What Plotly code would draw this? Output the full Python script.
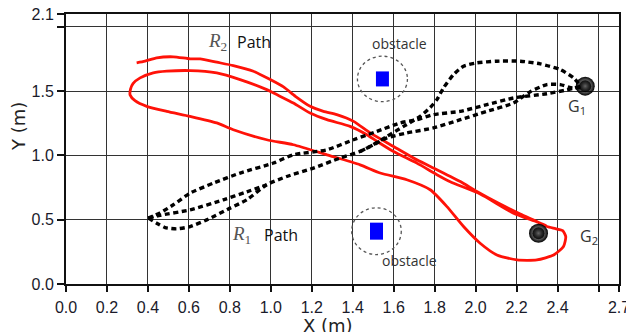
import plotly.graph_objects as go

# ---------------- data ----------------
# R2 path (red, solid)
r2_x = [0.345, 0.386, 0.443, 0.524, 0.606, 0.655, 0.736, 0.817, 0.915, 0.997, 1.062, 1.120,
        1.192, 1.257, 1.322, 1.404, 1.485, 1.599, 1.713, 1.811, 1.925, 2.006, 2.110, 2.218,
        2.299, 2.348, 2.390,
        2.425, 2.440, 2.429, 2.381, 2.299, 2.202, 2.104, 2.022, 1.941, 1.860, 1.778, 1.664,
        1.534, 1.436, 1.274, 1.110, 0.980, 0.817, 0.736, 0.606, 0.492, 0.394, 0.337, 0.313,
        0.315, 0.327, 0.362, 0.426, 0.492, 0.606, 0.736, 0.850, 0.980, 1.029, 1.110, 1.192,
        1.274, 1.387, 1.469, 1.518, 1.599, 1.713, 1.811, 1.876, 2.022, 2.185, 2.299, 2.345]
r2_y = [1.720, 1.733, 1.759, 1.767, 1.751, 1.751, 1.725, 1.699, 1.655, 1.590, 1.533, 1.460,
        1.382, 1.343, 1.317, 1.265, 1.175, 1.070, 0.966, 0.889, 0.797, 0.720, 0.630, 0.545,
        0.486, 0.447, 0.430,
        0.415, 0.369, 0.291, 0.226, 0.187, 0.187, 0.226, 0.317, 0.447, 0.602, 0.733, 0.811,
        0.863, 0.927, 1.005, 1.083, 1.122, 1.200, 1.253, 1.304, 1.343, 1.382, 1.426, 1.470,
        1.515, 1.559, 1.603, 1.642, 1.655, 1.660, 1.642, 1.590, 1.512, 1.473, 1.408, 1.330,
        1.278, 1.226, 1.161, 1.110, 1.030, 0.940, 0.850, 0.795, 0.700, 0.551, 0.483, 0.452]

# R1 path (black, dashed) in segments
r1_arc_x = [0.402, 0.443, 0.484, 0.541, 0.606, 0.687, 0.801, 0.883, 0.980, 1.078, 1.208,
            1.339, 1.436, 1.485, 1.567, 1.648, 1.729, 1.778, 1.811, 1.843, 1.892, 1.941,
            2.006, 2.104, 2.218, 2.316, 2.413, 2.478, 2.511]
r1_arc_y = [0.512, 0.473, 0.439, 0.429, 0.447, 0.499, 0.590, 0.655, 0.772, 0.836, 0.902,
            0.980, 1.031, 1.070, 1.148, 1.226, 1.304, 1.372, 1.434, 1.525, 1.629, 1.694,
            1.720, 1.733, 1.733, 1.712, 1.668, 1.603, 1.543]
r1_back_x = [2.511, 2.446, 2.348, 2.185, 2.055, 1.925, 1.794, 1.713, 1.632, 1.518, 1.404,
             1.274, 1.110, 1.013, 0.850, 0.720, 0.606, 0.524, 0.459, 0.402]
r1_back_y = [1.536, 1.510, 1.480, 1.447, 1.395, 1.343, 1.317, 1.278, 1.253, 1.187, 1.122,
             1.044, 1.005, 0.941, 0.863, 0.785, 0.707, 0.616, 0.553, 0.512]
r1_mid_x = [0.402, 0.459, 0.606, 0.768, 0.883, 0.980]
r1_mid_y = [0.512, 0.534, 0.577, 0.655, 0.717, 0.772]
r1_low_x = [1.436, 1.501, 1.567, 1.664, 1.794, 1.925, 2.055, 2.185, 2.267, 2.348, 2.413,
            2.472, 2.511]
r1_low_y = [1.031, 1.083, 1.136, 1.175, 1.214, 1.278, 1.343, 1.408, 1.496, 1.551, 1.551,
            1.524, 1.528]

# goals
goal_x = [2.535, 2.307]
goal_y = [1.539, 0.395]
goal_labels = ["G<sub>1</sub>", "G<sub>2</sub>"]
goal_label_x = [2.496, 2.553]
goal_label_y = [1.383, 0.370]

# obstacles
obs_x = [1.545, 1.516]
obs_y = [1.595, 0.411]
obs_rx = [0.122, 0.121]
obs_ry = [0.177, 0.182]
obs_label_x = [1.629, 1.676]
obs_label_y = [1.871, 0.179]

# path labels
path_sub = ["2", "1"]
path_r_x = [0.738, 0.855]
path_r_y = [1.886, 0.382]
path_word_x = [0.916, 1.048]
path_word_y = [1.886, 0.382]

# axes ticks
x_tickvals = [0.0, 0.2, 0.4, 0.6, 0.8, 1.0, 1.2, 1.4, 1.6, 1.8, 2.0, 2.2, 2.4, 2.6, 2.7]
x_ticktext = ["0.0", "0.2", "0.4", "0.6", "0.8", "1.0", "1.2", "1.4", "1.6", "1.8", "2.0",
              "2.2", "2.4", "", "2.7"]
y_tickvals = [0.0, 0.5, 1.0, 1.5, 2.0, 2.1]
y_ticktext = ["0.0", "0.5", "1.0", "1.5", "", "2.1"]

# ---------------- figure ----------------
fig = go.Figure()

fig.add_trace(go.Scatter(x=r2_x, y=r2_y, mode="lines",
                         line=dict(color="#ff1208", width=2.8, shape="spline", smoothing=0.6),
                         hoverinfo="skip", showlegend=False))

black_line = dict(color="black", width=3.4, dash="5px,3.5px", shape="spline", smoothing=0.6)
for sx, sy in [(r1_arc_x, r1_arc_y), (r1_back_x, r1_back_y),
               (r1_mid_x, r1_mid_y), (r1_low_x, r1_low_y)]:
    fig.add_trace(go.Scatter(x=sx, y=sy, mode="lines", line=black_line,
                             hoverinfo="skip", showlegend=False))

# goals: blurred dots
fig.add_trace(go.Scatter(x=goal_x, y=goal_y, mode="markers",
                         marker=dict(size=19, color="rgba(0,0,0,1)",
                                     gradient=dict(type="radial", color="rgba(0,0,0,0)"),
                                     line=dict(width=0)),
                         hoverinfo="skip", showlegend=False))
fig.add_trace(go.Scatter(x=goal_x, y=goal_y, mode="markers",
                         marker=dict(size=12, color="rgba(0,0,0,0.85)",
                                     gradient=dict(type="radial", color="rgba(0,0,0,0.6)"),
                                     line=dict(width=0)),
                         hoverinfo="skip", showlegend=False))

shapes = []
for ox, oy, rx, ry in zip(obs_x, obs_y, obs_rx, obs_ry):
    shapes.append(dict(type="circle", xref="x", yref="y",
                       x0=ox - rx, x1=ox + rx, y0=oy - ry, y1=oy + ry,
                       line=dict(color="#555555", width=1.3, dash="dot"), layer="above"))
box_half_w = [6.5, 6.5]
box_half_h = [7.5, 8.5]
for ox, oy, hw, hh in zip(obs_x, obs_y, box_half_w, box_half_h):
    shapes.append(dict(type="rect", xref="x", yref="y", xsizemode="pixel", ysizemode="pixel",
                       xanchor=ox, yanchor=oy, x0=-hw, x1=hw, y0=-hh, y1=hh,
                       fillcolor="#0000ff", line=dict(width=0), layer="above"))

annotations = []
ann_common = dict(xref="x", yref="y", showarrow=False, xanchor="center", yanchor="middle")
for lx, ly in zip(obs_label_x, obs_label_y):
    annotations.append(dict(x=lx, y=ly, text="obstacle", **ann_common,
                            font=dict(family="Open Sans, DejaVu Sans", size=14, color="#333333")))
for t, lx, ly in zip(goal_labels, goal_label_x, goal_label_y):
    annotations.append(dict(x=lx, y=ly, text=t, **ann_common,
                            font=dict(family="Open Sans, DejaVu Sans", size=16, color="#333333")))
for s, rx, ry, wx, wy in zip(path_sub, path_r_x, path_r_y, path_word_x, path_word_y):
    annotations.append(dict(x=rx, y=ry, text="<i>R</i><sub>" + s + "</sub>", **ann_common,
                            font=dict(family="Liberation Serif, DejaVu Serif", size=19,
                                      color="#555555")))
    annotations.append(dict(x=wx, y=wy, text="Path", **ann_common,
                            font=dict(family="Open Sans, DejaVu Sans", size=16, color="#111111")))

annotations.append(dict(x=0.474, y=-0.155, xref="paper", yref="paper", text="X (m)",
                        xanchor="center", yanchor="middle", showarrow=False,
                        font=dict(family="DejaVu Sans", size=18, color="#222222")))
annotations.append(dict(x=-0.087, y=0.585, xref="paper", yref="paper", text="Y (m)",
                        xanchor="center", yanchor="middle", textangle=-90, showarrow=False,
                        font=dict(family="DejaVu Sans", size=18, color="#222222")))

tickfont = dict(family="Liberation Sans Narrow, Arial Narrow, Liberation Sans", size=16,
                color="#1a1a2a")

fig.update_layout(
    width=626, height=332,
    margin=dict(l=66, r=7, t=14, b=48, autoexpand=False),
    paper_bgcolor="white", plot_bgcolor="white",
    shapes=shapes, annotations=annotations,
    xaxis=dict(range=[0, 2.7], tickvals=x_tickvals, ticktext=x_ticktext, tickfont=tickfont,
               showgrid=True, gridcolor="#333333", gridwidth=1, zeroline=False,
               showline=True, linecolor="#111111", linewidth=2, mirror=True, automargin=False,
               ticks="outside", ticklen=6, tickwidth=2, tickcolor="#111111", fixedrange=True,
               ticklabeloverflow="allow", ticklabelstandoff=2),
    yaxis=dict(range=[0, 2.1], tickvals=y_tickvals, ticktext=y_ticktext, tickfont=tickfont,
               showgrid=True, gridcolor="#333333", gridwidth=1, zeroline=False,
               showline=True, linecolor="#111111", linewidth=2, mirror=True, automargin=False,
               ticks="outside", ticklen=7, tickwidth=1.5, tickcolor="#111111", fixedrange=True,
               ticklabeloverflow="allow"),
)

fig.write_html("out.html", config={"displayModeBar": False},
               post_script="document.body.style.margin='0';document.body.style.overflow='hidden';")
